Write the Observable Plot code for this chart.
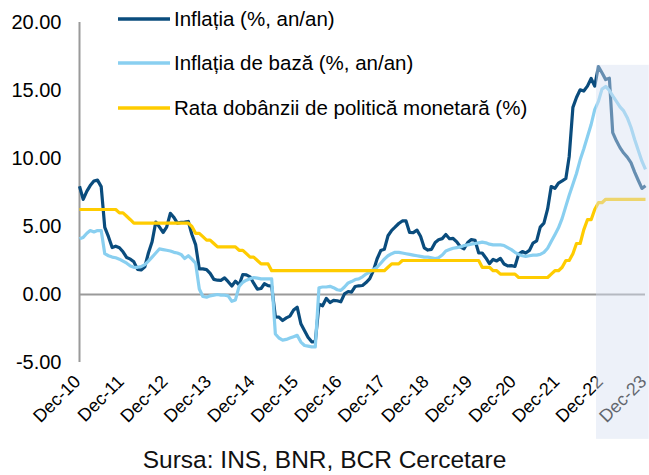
<!DOCTYPE html>
<html>
<head>
<meta charset="utf-8">
<script src="https://cdn.jsdelivr.net/npm/d3@7"></script>
<script src="https://cdn.jsdelivr.net/npm/@observablehq/plot@0.6"></script>
<style>
  html, body { margin: 0; padding: 0; background: #ffffff; }
  body { font-family: Arial, "Liberation Sans", sans-serif; }
  #chart { position: relative; width: 649px; height: 475px; overflow: hidden; }
  #chart svg { position: absolute; left: 0; top: 0; overflow: visible; }
  .caption { position: absolute; left: 0; top: 446px; width: 649px; text-align: center;
             font-size: 24.5px; line-height: 28px; color: #111111; }
</style>
</head>
<body>
<div id="chart"></div>
<script>
// ---------- data (monthly, Dec-10 .. Dec-23) ----------
const startYear = 2010, startMonth = 11; // December 2010 (0-based month)

const seriesNames = [
  "Inflația (%, an/an)",
  "Inflația de bază (%, an/an)",
  "Rata dobânzii de politică monetară (%)"
];
const seriesColors = ["#0a4c7d", "#89cff0", "#ffcc00"];

// Inflația (%, an/an)
const inflatia = [
  7.96,
  6.99, 7.60, 8.01, 8.34, 8.41, 7.93, 4.94, 4.25, 3.45, 3.55, 3.44, 3.14,      // 2011
  2.72, 2.60, 2.40, 1.85, 1.80, 2.04, 3.05, 3.88, 5.33, 4.97, 4.56, 4.95,      // 2012
  5.97, 5.65, 5.25, 5.30, 5.32, 5.37, 4.41, 3.67, 1.88, 1.88, 1.83, 1.55,      // 2013
  1.11, 1.05, 1.04, 1.22, 0.94, 0.62, 0.98, 0.70, 1.47, 1.44, 1.30, 0.83,      // 2014
  0.40, 0.44, 0.79, 0.65, 0.62, -1.64, -1.66, -1.91, -1.72, -1.59, -1.14, -0.93, // 2015
  -2.15, -2.66, -3.15, -3.48, -3.46, -0.72, -0.83, -0.29, -0.59, -0.43, -0.46, -0.54, // 2016
  0.05, 0.22, 0.18, 0.59, 0.64, 0.66, 0.88, 1.16, 1.77, 2.61, 3.23, 3.32,      // 2017
  4.32, 4.72, 4.95, 5.22, 5.41, 5.41, 4.56, 4.55, 4.73, 4.28, 3.43, 3.27,      // 2018
  3.32, 3.83, 4.03, 4.11, 4.41, 4.10, 4.12, 3.87, 3.49, 3.36, 3.82, 4.04,      // 2019
  3.99, 3.05, 3.05, 2.69, 2.27, 2.58, 2.47, 2.66, 2.24, 2.10, 2.12, 2.06,      // 2020
  2.97, 3.16, 3.05, 3.24, 3.78, 3.94, 4.95, 5.25, 6.29, 7.94, 7.80, 8.19,      // 2021
  8.35, 8.53, 10.15, 13.76, 14.49, 15.05, 14.96, 15.32, 15.88, 15.32, 16.76, 16.30, // 2022
  15.80, 15.90, 11.90, 11.30, 10.80, 10.40, 10.10, 9.70, 9.00, 8.40, 7.80, 8.00    // 2023
];

// Inflația de bază (%, an/an)
const inflatiaBaza = [
  4.1,
  4.2, 4.5, 4.7, 4.6, 4.7, 4.7, 3.0, 2.85, 2.75, 2.7, 2.6, 2.45,             // 2011
  2.3, 2.1, 2.0, 2.0, 2.05, 2.2, 2.45, 2.75, 3.05, 3.35, 3.3, 3.25,          // 2012
  3.2, 3.1, 3.05, 2.95, 2.65, 2.85, 2.6, 2.3, 0.4, -0.15, -0.2, -0.1,        // 2013
  -0.05, 0.0, -0.05, -0.05, -0.1, -0.5, -0.4, 0.6, 0.9, 1.05, 1.15, 1.25,    // 2014
  1.2, 1.15, 1.15, 1.15, 1.15, -2.9, -3.2, -3.35, -3.3, -3.2, -3.1, -3.0,    // 2015
  -3.5, -3.75, -3.8, -3.85, -3.85, 0.5, 0.55, 0.55, 0.6, 0.5, 0.35, 0.3,     // 2016
  0.55, 0.85, 0.95, 1.1, 1.15, 1.3, 1.5, 1.65, 1.85, 2.0, 2.3, 2.6,          // 2017
  2.85, 3.0, 3.1, 3.1, 3.05, 3.0, 2.95, 2.9, 2.85, 2.8, 2.75, 2.75,          // 2018
  2.7, 2.65, 2.7, 2.9, 3.2, 3.3, 3.4, 3.45, 3.5, 3.6, 3.65, 3.7,             // 2019
  3.75, 3.8, 3.85, 3.8, 3.7, 3.65, 3.65, 3.65, 3.6, 3.45, 3.3, 3.1,          // 2020
  2.95, 2.85, 2.8, 2.85, 2.9, 2.9, 2.95, 3.1, 3.4, 3.9, 4.4, 4.9,            // 2021
  5.6, 6.5, 7.3, 8.1, 8.9, 9.9, 10.7, 11.6, 12.5, 13.6, 14.2, 15.1,          // 2022
  15.3, 15.0, 14.6, 14.2, 13.8, 13.5, 13.0, 12.3, 11.4, 10.6, 9.8, 9.2       // 2023
];

// Rata dobânzii de politică monetară (%)
const rataDobanzii = [
  6.25,
  6.25, 6.25, 6.25, 6.25, 6.25, 6.25, 6.25, 6.25, 6.25, 6.25, 6.00, 6.00,    // 2011
  5.75, 5.50, 5.25, 5.25, 5.25, 5.25, 5.25, 5.25, 5.25, 5.25, 5.25, 5.25,    // 2012
  5.25, 5.25, 5.25, 5.25, 5.25, 5.25, 5.00, 4.50, 4.50, 4.25, 4.00, 4.00,    // 2013
  3.75, 3.50, 3.50, 3.50, 3.50, 3.50, 3.50, 3.25, 3.25, 3.00, 2.75, 2.75,    // 2014
  2.50, 2.25, 2.25, 2.25, 1.75, 1.75, 1.75, 1.75, 1.75, 1.75, 1.75, 1.75,    // 2015
  1.75, 1.75, 1.75, 1.75, 1.75, 1.75, 1.75, 1.75, 1.75, 1.75, 1.75, 1.75,    // 2016
  1.75, 1.75, 1.75, 1.75, 1.75, 1.75, 1.75, 1.75, 1.75, 1.75, 1.75, 1.75,    // 2017
  2.00, 2.25, 2.25, 2.25, 2.50, 2.50, 2.50, 2.50, 2.50, 2.50, 2.50, 2.50,    // 2018
  2.50, 2.50, 2.50, 2.50, 2.50, 2.50, 2.50, 2.50, 2.50, 2.50, 2.50, 2.50,    // 2019
  2.50, 2.50, 2.00, 2.00, 2.00, 1.75, 1.75, 1.50, 1.50, 1.50, 1.50, 1.50,    // 2020
  1.25, 1.25, 1.25, 1.25, 1.25, 1.25, 1.25, 1.25, 1.25, 1.50, 1.75, 1.75,    // 2021
  2.00, 2.50, 2.50, 3.00, 3.75, 3.75, 4.75, 5.50, 5.50, 6.25, 6.75, 6.75,    // 2022
  7.00, 7.00, 7.00, 7.00, 7.00, 7.00, 7.00, 7.00, 7.00, 7.00, 7.00, 7.00     // 2023
];

const tickLabels = ["Dec-10","Dec-11","Dec-12","Dec-13","Dec-14","Dec-15","Dec-16",
                    "Dec-17","Dec-18","Dec-19","Dec-20","Dec-21","Dec-22","Dec-23"];
const yTicks = [-5, 0, 5, 10, 15, 20];

// shaded forecast band
const shadeStart = "2022-10-16", shadeEnd = "2024-01-01";
const shadeTop = 16.85, shadeBottom = -10.65;

// ---------- build table ----------
const monthDate = i => new Date(Date.UTC(startYear, startMonth + i, 1));
const allSeries = [inflatia, inflatiaBaza, rataDobanzii];
const rows = [];
allSeries.forEach((vals, s) => vals.forEach((v, i) => rows.push({date: monthDate(i), value: v, series: seriesNames[s]})));
const tickDates = tickLabels.map((_, k) => new Date(Date.UTC(startYear + k, startMonth, 1)));
const lastDate = monthDate(inflatia.length - 1);

const font = "Arial, 'Liberation Sans', sans-serif";

const plot = Plot.plot({
  width: 649,
  height: 440,
  marginLeft: 79,
  marginRight: 4,
  marginTop: 22,
  marginBottom: 78,
  style: {fontFamily: font, fontSize: "20px", background: "transparent", color: "#000", overflow: "visible"},
  x: {type: "utc", domain: [monthDate(0), lastDate], label: null},
  y: {domain: [-5, 20], label: null},
  color: {domain: seriesNames, range: seriesColors},
  marks: [
    Plot.axisY({ticks: yTicks, tickFormat: d => d.toFixed(2), tickSize: 0, tickPadding: 18,
                fontSize: 20, fill: "#000", label: null}),
    Plot.axisX({ticks: tickDates, tickFormat: d => tickLabels[d.getUTCFullYear() - startYear],
                tickSize: 0, tickPadding: 16, dx: -2, tickRotate: -45, fontSize: 18, fill: "#000", label: null}),
    Plot.ruleX([monthDate(0)], {y1: -5, y2: 20, stroke: "#9a9a9a", strokeWidth: 2}),
    Plot.ruleY([0], {stroke: "#9a9a9a", strokeWidth: 2}),
    Plot.line(rows, {x: "date", y: "value", z: "series", stroke: "series",
                     strokeWidth: 3.2, strokeLinejoin: "round", strokeLinecap: "butt"}),
    Plot.rect([{x1: new Date(shadeStart), x2: new Date(shadeEnd), y1: shadeBottom, y2: shadeTop}],
              {x1: "x1", x2: "x2", y1: "y1", y2: "y2", fill: "#d6e1f2", fillOpacity: 0.45})
  ]
});

const chart = document.getElementById("chart");
chart.appendChild(plot);

// legend (inside the plot, top-left)
const svg = d3.select(plot);
const legendY = [19, 63, 108];
const lg = svg.append("g").attr("font-family", font).attr("font-size", 20.5).attr("text-anchor", "start");
seriesNames.forEach((name, i) => {
  lg.append("line").attr("x1", 118).attr("x2", 170).attr("y1", legendY[i]).attr("y2", legendY[i])
    .attr("stroke", seriesColors[i]).attr("stroke-width", 3.5);
  lg.append("text").attr("x", 174).attr("y", legendY[i]).attr("dy", "0.35em")
    .attr("text-anchor", "start").attr("fill", "#000").text(name);
});

// caption below the SVG
const cap = document.createElement("div");
cap.className = "caption";
cap.textContent = "Sursa: INS, BNR, BCR Cercetare";
chart.appendChild(cap);
</script>
</body>
</html>
